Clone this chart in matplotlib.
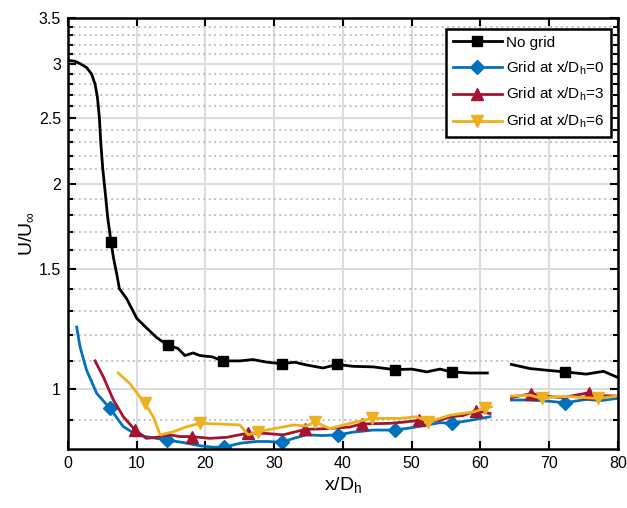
import numpy as np
import matplotlib
matplotlib.use("Agg")
import matplotlib.pyplot as plt
from matplotlib.ticker import FixedLocator, NullFormatter

plt.rcParams["font.family"] = ["Liberation Sans", "DejaVu Sans"]
plt.rcParams["mathtext.fontset"] = "custom"
plt.rcParams["mathtext.rm"] = "Liberation Sans"
plt.rcParams["mathtext.it"] = "Liberation Sans"

# centreline velocity ratio vs. streamwise distance (gap = no PIV data)
x_nogrid = np.array([0.3, 1.0, 1.75, 2.72, 3.44, 3.93, 4.27, 4.56, 4.75, 5.04, 5.38, 5.77,
                     6.25, 6.6, 7.08, 7.47, 8.53, 10.0, 11.4, 12.9, 14.5, 16.0, 17.0,
                     18.2, 19.2, 21.0, 22.5, 25.0, 26.9, 29.0, 31.1, 33.0, 34.7, 37.1,
                     39.2, 41.5, 44.4, 47.5, 50.0, 52.2, 54.1, 55.8, 58.5, 61.0, np.nan,
                     64.5, 67.2, 70.0, 72.3, 75.4, 77.9, 79.8])
u_nogrid = np.array([3.03, 3.025, 3.0, 2.96, 2.895, 2.80, 2.68, 2.50, 2.31, 2.11, 1.955,
                     1.786, 1.645, 1.56, 1.476, 1.404, 1.357, 1.27, 1.23, 1.19, 1.16,
                     1.147, 1.12, 1.13, 1.12, 1.115, 1.10, 1.10, 1.105, 1.095, 1.09,
                     1.095, 1.085, 1.074, 1.087, 1.08, 1.078, 1.068, 1.07, 1.06, 1.07,
                     1.06, 1.056, 1.056, np.nan, 1.087, 1.072, 1.065, 1.06, 1.052, 1.062,
                     1.042])
mk_nogrid = [6.25, 14.5, 22.5, 31.1, 39.2, 47.5, 55.8, 72.3]

x_g0 = np.array([1.26, 1.75, 2.7, 4.17, 6.1, 8.05, 10.0, 11.9, 14.4, 16.8, 19.2, 21.1,
                 22.7, 25.0, 27.4, 29.0, 31.1, 33.0, 34.7, 37.0, 39.3, 41.5, 44.4, 47.5,
                 50.0, 52.2, 54.1, 55.8, 58.5, 61.4, np.nan, 64.5, 67.2, 70.0, 72.3,
                 75.4, 77.5, 79.8])
u_g0 = np.array([1.233, 1.153, 1.066, 0.986, 0.937, 0.881, 0.857, 0.85, 0.842, 0.835,
                 0.826, 0.822, 0.822, 0.833, 0.838, 0.838, 0.836, 0.848, 0.857, 0.855,
                 0.857, 0.865, 0.871, 0.871, 0.878, 0.886, 0.893, 0.891, 0.90, 0.911,
                 np.nan, 0.964, 0.964, 0.96, 0.955, 0.966, 0.962, 0.969])
mk_g0 = [6.1, 14.4, 22.7, 31.1, 39.3, 47.5, 55.8, 72.3]

x_g3 = np.array([3.93, 5.14, 6.6, 8.05, 9.75, 11.4, 12.9, 14.8, 16.3, 18.0, 20.65, 23.1,
                 26.2, 28.9, 31.3, 34.5, 37.6, 41.0, 42.7, 46.8, 49.0, 51.1, 54.1, 55.6,
                 57.5, 59.4, 61.4, np.nan, 64.5, 67.4, 70.0, 72.0, 75.8, 77.8, 79.8])
u_g3 = np.array([1.10, 1.042, 0.964, 0.911, 0.871, 0.847, 0.85, 0.857, 0.852, 0.852,
                 0.847, 0.85, 0.862, 0.861, 0.857, 0.873, 0.875, 0.88, 0.889, 0.891,
                 0.895, 0.90, 0.90, 0.911, 0.915, 0.93, 0.921, np.nan, 0.972, 0.985,
                 0.975, 0.972, 0.988, 0.978, 0.977])
mk_g3 = [9.75, 18.0, 26.2, 34.5, 42.7, 51.1, 59.4, 67.4, 75.8]

x_g6 = np.array([7.3, 9.0, 11.2, 12.4, 13.4, 15.3, 17.3, 19.2, 22.1, 25.0, 26.2, 27.7,
                 29.9, 32.8, 34.7, 35.9, 38.1, 41.0, 44.2, 48.3, 50.7, 52.4, 54.1, 55.6,
                 59.0, 60.6, 61.6, np.nan, 64.5, 67.2, 68.9, 71.0, 73.0, 77.1, 79.8])
u_g6 = np.array([1.056, 1.019, 0.953, 0.911, 0.857, 0.866, 0.881, 0.891, 0.889, 0.886,
                 0.857, 0.866, 0.875, 0.886, 0.883, 0.896, 0.875, 0.891, 0.906, 0.906,
                 0.911, 0.896, 0.906, 0.916, 0.926, 0.937, 0.942, np.nan, 0.977, 0.98,
                 0.969, 0.975, 0.975, 0.969, 0.977])
mk_g6 = [11.2, 19.2, 27.7, 35.9, 44.2, 52.4, 60.6, 68.9, 77.1]

labels = ["No grid", r"Grid at x/D$_\mathrm{h}$=0", r"Grid at x/D$_\mathrm{h}$=3",
          r"Grid at x/D$_\mathrm{h}$=6"]
yticks = [1, 1.5, 2, 2.5, 3, 3.5]
xticks = [0, 10, 20, 30, 40, 50, 60, 70, 80]


def mark_idx(x, marks):
    return [int(np.where(np.isclose(x, m))[0][0]) for m in marks]


fig = plt.figure(figsize=(6.27, 5.08), dpi=100)
ax = fig.add_axes([0.1085, 0.1161, 0.877, 0.8485])

series = [
    (x_nogrid, u_nogrid, mk_nogrid, "k", "s", 7),
    (x_g0, u_g0, mk_g0, "#0072BD", "D", 7),
    (x_g3, u_g3, mk_g3, "#A2142F", "^", 8.5),
    (x_g6, u_g6, mk_g6, "#EDB120", "v", 8.5),
]
for (x, u, mk, c, m, ms), lab in zip(series, labels):
    ax.plot(x, u, color=c, lw=2, marker=m, ms=ms, markevery=mark_idx(x, mk),
            label=lab)

ax.set_yscale("log")
ax.set_xlim(0, 80)
ax.set_ylim(0.817, 3.5)
ax.set_xticks(xticks)
ax.yaxis.set_major_locator(FixedLocator(yticks))
ax.set_yticklabels([f"{t:g}" for t in yticks])
minor = [v / 10 for v in range(9, 35) if v % 5 != 0]
ax.yaxis.set_minor_locator(FixedLocator(minor))
ax.yaxis.set_minor_formatter(NullFormatter())

ax.grid(which="major", color="#dcdcdc", lw=1.5, ls="-")
ax.grid(which="minor", axis="y", color="#b8b8b8", lw=1.3, ls=(0, (1, 2)))
ax.set_axisbelow(True)

ax.tick_params(which="both", direction="in", top=True, right=True, width=1.5,
               labelsize=11.5, colors="k")
ax.tick_params(which="major", length=6, pad=5)
ax.tick_params(which="minor", length=3.5)
for s in ax.spines.values():
    s.set_linewidth(1.8)

ax.set_xlabel(r"x/D$_\mathrm{h}$", fontsize=14, labelpad=3)
ax.set_ylabel(r"U/U$_\infty$", fontsize=14, labelpad=3)

leg = ax.legend(loc="upper right", bbox_to_anchor=(0.987, 0.975), fontsize=11,
                handlelength=3.2, borderaxespad=0, fancybox=False, framealpha=1,
                edgecolor="k", borderpad=0.45, labelspacing=0.62, handletextpad=0.25)
leg.get_frame().set_linewidth(1.8)

fig.savefig("out.png", dpi=100)
